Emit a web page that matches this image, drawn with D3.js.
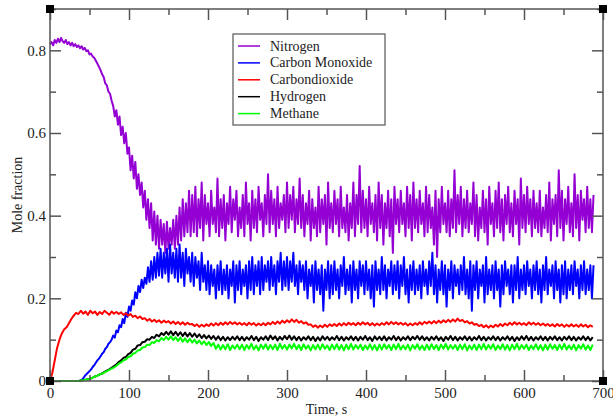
<!DOCTYPE html>
<html>
<head>
<meta charset="utf-8">
<script src="https://cdn.jsdelivr.net/npm/d3@7"></script>
<style>
  body { margin: 0; background: #fff; }
  svg text { font-family: "Liberation Serif", "DejaVu Serif", "Times New Roman", Times, serif; fill: #222; }
</style>
</head>
<body>
<script>
// mole fraction of producer gas species vs time

// sample times, s (nitrogen and CO read every 2 s, the rest every 3 s)
var times2 = d3.range(0, 690, 2);
var times3 = d3.range(0, 690, 3);

var nitrogen = [
  0.815,0.82,0.812,0.825,0.818,0.828,0.82,0.83,0.822,0.818,
  0.825,0.815,0.82,0.812,0.818,0.81,0.815,0.808,0.812,0.805,
  0.81,0.802,0.806,0.798,0.80,0.79,0.792,0.785,0.782,0.775,
  0.768,0.76,0.752,0.742,0.735,0.72,0.715,0.70,0.695,0.678,
  0.665,0.64,0.655,0.62,0.64,0.595,0.615,0.575,0.60,0.55,
  0.565,0.51,0.545,0.49,0.53,0.465,0.50,0.45,0.48,0.42,
  0.46,0.39,0.44,0.37,0.43,0.34,0.41,0.33,0.40,0.32,
  0.39,0.33,0.38,0.31,0.385,0.32,0.37,0.33,0.39,0.32,
  0.40,0.33,0.42,0.34,0.44,0.35,0.43,0.36,0.46,0.35,
  0.45,0.36,0.47,0.35,0.44,0.37,0.48,0.34,0.45,0.38,
  0.43,0.35,0.46,0.38,0.42,0.36,0.49,0.35,0.44,0.37,
  0.45,0.34,0.43,0.38,0.47,0.36,0.44,0.39,0.46,0.35,
  0.42,0.37,0.45,0.35,0.48,0.38,0.43,0.34,0.46,0.37,
  0.44,0.36,0.47,0.39,0.43,0.35,0.45,0.38,0.50,0.36,
  0.46,0.38,0.44,0.35,0.47,0.37,0.43,0.39,0.45,0.36,
  0.48,0.37,0.45,0.39,0.47,0.36,0.44,0.38,0.49,0.37,
  0.45,0.35,0.43,0.38,0.46,0.34,0.44,0.37,0.42,0.35,
  0.47,0.36,0.44,0.38,0.45,0.33,0.48,0.37,0.43,0.36,
  0.46,0.38,0.44,0.35,0.47,0.37,0.42,0.36,0.45,0.34,
  0.43,0.37,0.48,0.35,0.45,0.38,0.52,0.36,0.46,0.37,
  0.44,0.35,0.47,0.38,0.43,0.36,0.45,0.34,0.48,0.37,
  0.45,0.33,0.43,0.37,0.46,0.35,0.44,0.31,0.47,0.38,
  0.44,0.36,0.46,0.38,0.43,0.35,0.47,0.37,0.45,0.34,
  0.48,0.37,0.44,0.36,0.46,0.38,0.43,0.35,0.47,0.36,
  0.45,0.37,0.42,0.33,0.46,0.30,0.44,0.36,0.47,0.38,
  0.43,0.36,0.46,0.35,0.44,0.37,0.51,0.36,0.45,0.38,
  0.47,0.35,0.44,0.37,0.46,0.36,0.43,0.38,0.48,0.35,
  0.45,0.34,0.42,0.37,0.46,0.36,0.44,0.33,0.47,0.38,
  0.43,0.35,0.46,0.37,0.48,0.36,0.44,0.34,0.45,0.38,
  0.47,0.36,0.43,0.35,0.46,0.38,0.44,0.33,0.49,0.37,
  0.45,0.36,0.47,0.38,0.44,0.35,0.46,0.37,0.43,0.36,
  0.46,0.35,0.42,0.37,0.45,0.36,0.48,0.34,0.44,0.38,
  0.45,0.35,0.51,0.37,0.46,0.34,0.44,0.38,0.47,0.36,
  0.43,0.35,0.50,0.37,0.45,0.34,0.46,0.39,0.44,0.36,
  0.47,0.37,0.44,0.36,0.45
];

var carbonMonoxide = [
  0,0,0,0,0,0,0,0,0,0,
  0,0,0,0,0,0,0,0,0,0,
  0.002,0.006,0.012,0.016,0.02,0.024,0.028,0.034,0.038,0.044,
  0.05,0.054,0.06,0.066,0.07,0.078,0.082,0.09,0.094,0.10,
  0.11,0.105,0.122,0.118,0.135,0.13,0.15,0.14,0.165,0.155,
  0.18,0.17,0.195,0.185,0.215,0.20,0.23,0.215,0.245,0.225,
  0.25,0.235,0.275,0.24,0.29,0.245,0.30,0.25,0.31,0.255,
  0.32,0.25,0.31,0.26,0.32,0.24,0.33,0.26,0.31,0.25,
  0.32,0.24,0.33,0.25,0.31,0.23,0.32,0.26,0.30,0.24,
  0.31,0.23,0.30,0.25,0.29,0.22,0.31,0.24,0.28,0.22,
  0.29,0.21,0.28,0.23,0.27,0.20,0.28,0.22,0.29,0.21,
  0.27,0.22,0.28,0.20,0.27,0.23,0.29,0.19,0.28,0.22,
  0.29,0.21,0.27,0.23,0.28,0.20,0.29,0.22,0.30,0.21,
  0.28,0.23,0.29,0.21,0.30,0.22,0.28,0.24,0.29,0.22,
  0.30,0.23,0.28,0.21,0.29,0.24,0.31,0.22,0.29,0.23,
  0.30,0.22,0.29,0.24,0.31,0.23,0.28,0.21,0.29,0.24,
  0.28,0.22,0.29,0.20,0.27,0.23,0.28,0.19,0.29,0.22,
  0.27,0.21,0.28,0.17,0.27,0.22,0.29,0.20,0.28,0.21,
  0.29,0.22,0.27,0.20,0.28,0.23,0.30,0.21,0.27,0.22,
  0.28,0.19,0.29,0.22,0.27,0.20,0.29,0.23,0.28,0.21,
  0.29,0.22,0.27,0.20,0.28,0.18,0.29,0.22,0.27,0.21,
  0.30,0.22,0.28,0.20,0.27,0.23,0.29,0.21,0.28,0.22,
  0.29,0.20,0.28,0.23,0.30,0.21,0.27,0.19,0.28,0.22,
  0.29,0.21,0.27,0.22,0.28,0.20,0.29,0.23,0.27,0.21,
  0.29,0.23,0.31,0.21,0.28,0.19,0.27,0.22,0.29,0.21,
  0.28,0.18,0.27,0.22,0.29,0.20,0.28,0.23,0.27,0.21,
  0.28,0.22,0.30,0.21,0.27,0.20,0.29,0.17,0.28,0.22,
  0.29,0.20,0.27,0.23,0.28,0.19,0.30,0.21,0.27,0.22,
  0.28,0.20,0.29,0.22,0.27,0.18,0.28,0.21,0.29,0.23,
  0.27,0.21,0.28,0.19,0.28,0.22,0.30,0.20,0.27,0.22,
  0.28,0.21,0.29,0.23,0.27,0.20,0.28,0.22,0.29,0.21,
  0.27,0.19,0.28,0.22,0.30,0.21,0.27,0.23,0.28,0.20,
  0.29,0.22,0.27,0.19,0.28,0.21,0.29,0.20,0.27,0.22,
  0.28,0.21,0.29,0.23,0.27,0.20,0.28,0.22,0.29,0.21,
  0.27,0.22,0.28,0.20,0.28
];

var carbonDioxide = [
  0,0.02,0.05,0.08,0.10,0.115,0.125,0.13,0.14,0.15,
  0.158,0.165,0.162,0.17,0.163,0.168,0.16,0.17,0.164,0.168,
  0.16,0.167,0.162,0.17,0.165,0.16,0.168,0.163,0.167,0.162,
  0.166,0.16,0.164,0.158,0.162,0.155,0.158,0.152,0.156,0.15,
  0.152,0.146,0.15,0.144,0.148,0.143,0.147,0.141,0.146,0.142,
  0.145,0.139,0.144,0.138,0.143,0.137,0.142,0.136,0.141,0.137,
  0.138,0.133,0.137,0.131,0.136,0.132,0.137,0.133,0.139,0.134,
  0.14,0.135,0.141,0.136,0.142,0.137,0.143,0.138,0.142,0.137,
  0.141,0.136,0.14,0.135,0.141,0.136,0.14,0.134,0.139,0.135,
  0.14,0.135,0.141,0.137,0.143,0.138,0.144,0.139,0.146,0.141,
  0.147,0.142,0.149,0.143,0.148,0.141,0.145,0.139,0.142,0.136,
  0.137,0.131,0.135,0.129,0.134,0.13,0.136,0.131,0.137,0.133,
  0.138,0.133,0.139,0.134,0.14,0.135,0.141,0.136,0.14,0.135,
  0.141,0.136,0.142,0.137,0.141,0.135,0.14,0.134,0.139,0.135,
  0.14,0.136,0.142,0.137,0.143,0.138,0.142,0.137,0.141,0.136,
  0.14,0.134,0.139,0.135,0.14,0.136,0.142,0.137,0.143,0.139,
  0.144,0.139,0.145,0.14,0.146,0.141,0.147,0.142,0.148,0.143,
  0.149,0.144,0.151,0.145,0.148,0.142,0.145,0.139,0.142,0.136,
  0.138,0.133,0.136,0.13,0.135,0.129,0.134,0.13,0.136,0.132,
  0.138,0.133,0.139,0.135,0.141,0.136,0.142,0.137,0.141,0.136,
  0.14,0.135,0.142,0.137,0.141,0.136,0.14,0.135,0.139,0.134,
  0.138,0.133,0.137,0.132,0.138,0.133,0.137,0.131,0.136,0.132,
  0.137,0.132,0.136,0.131,0.137,0.132,0.136,0.13,0.135,0.131
];

var hydrogen = [
  0,0,0,0,0,0,0,0,0,0,
  0,0,0,0.001,0.002,0.003,0.004,0.006,0.008,0.011,
  0.013,0.016,0.018,0.022,0.025,0.028,0.032,0.036,0.04,0.046,
  0.05,0.056,0.058,0.065,0.068,0.076,0.078,0.086,0.087,0.094,
  0.095,0.101,0.1,0.107,0.104,0.112,0.108,0.116,0.111,0.119,
  0.112,0.12,0.111,0.119,0.11,0.118,0.109,0.117,0.108,0.116,
  0.107,0.115,0.106,0.113,0.104,0.111,0.103,0.11,0.102,0.109,
  0.1,0.108,0.099,0.107,0.098,0.106,0.099,0.107,0.1,0.108,
  0.099,0.107,0.098,0.106,0.1,0.109,0.099,0.107,0.097,0.106,
  0.1,0.108,0.099,0.11,0.101,0.108,0.098,0.107,0.1,0.109,
  0.101,0.11,0.1,0.108,0.099,0.107,0.098,0.106,0.1,0.108,
  0.099,0.107,0.097,0.106,0.098,0.108,0.1,0.107,0.099,0.106,
  0.1,0.109,0.099,0.107,0.098,0.106,0.1,0.108,0.099,0.107,
  0.098,0.107,0.1,0.109,0.099,0.106,0.097,0.108,0.1,0.107,
  0.099,0.108,0.098,0.106,0.1,0.109,0.099,0.107,0.098,0.106,
  0.1,0.108,0.099,0.107,0.101,0.109,0.1,0.108,0.099,0.106,
  0.098,0.107,0.1,0.108,0.099,0.106,0.097,0.107,0.1,0.109,
  0.099,0.107,0.098,0.106,0.1,0.108,0.099,0.107,0.098,0.106,
  0.1,0.109,0.099,0.107,0.098,0.106,0.1,0.108,0.099,0.107,
  0.098,0.106,0.1,0.108,0.099,0.107,0.097,0.106,0.099,0.108,
  0.1,0.109,0.099,0.107,0.098,0.106,0.1,0.108,0.099,0.107,
  0.098,0.107,0.1,0.108,0.099,0.106,0.098,0.107,0.1,0.108,
  0.099,0.107,0.098,0.106,0.1,0.108,0.099,0.107,0.098,0.106
];

var methane = [
  0,0,0,0,0,0,0,0,0,0,
  0,0,0,0.001,0.002,0.003,0.004,0.006,0.008,0.011,
  0.013,0.016,0.018,0.021,0.024,0.027,0.03,0.033,0.037,0.042,
  0.045,0.05,0.052,0.058,0.06,0.066,0.068,0.074,0.075,0.081,
  0.082,0.088,0.087,0.094,0.092,0.099,0.096,0.104,0.099,0.107,
  0.1,0.108,0.099,0.106,0.097,0.105,0.095,0.103,0.094,0.102,
  0.093,0.1,0.091,0.098,0.089,0.096,0.087,0.094,0.085,0.092,
  0.078,0.088,0.076,0.087,0.077,0.089,0.075,0.086,0.078,0.088,
  0.077,0.088,0.075,0.087,0.078,0.09,0.076,0.086,0.074,0.088,
  0.078,0.089,0.076,0.087,0.077,0.088,0.075,0.09,0.078,0.087,
  0.076,0.088,0.079,0.09,0.077,0.087,0.075,0.089,0.078,0.086,
  0.074,0.087,0.077,0.088,0.076,0.089,0.078,0.086,0.075,0.088,
  0.077,0.089,0.076,0.087,0.074,0.088,0.077,0.09,0.076,0.087,
  0.078,0.088,0.075,0.086,0.077,0.089,0.076,0.087,0.074,0.088,
  0.076,0.089,0.078,0.087,0.075,0.088,0.077,0.09,0.076,0.086,
  0.077,0.088,0.074,0.087,0.078,0.089,0.076,0.086,0.075,0.088,
  0.076,0.089,0.077,0.087,0.075,0.088,0.078,0.09,0.076,0.087,
  0.078,0.087,0.075,0.088,0.077,0.089,0.074,0.086,0.077,0.088,
  0.075,0.088,0.077,0.09,0.076,0.087,0.078,0.089,0.075,0.086,
  0.077,0.089,0.076,0.087,0.074,0.088,0.077,0.09,0.076,0.087,
  0.078,0.088,0.075,0.086,0.077,0.089,0.076,0.087,0.074,0.088,
  0.076,0.089,0.078,0.087,0.075,0.088,0.077,0.09,0.076,0.086,
  0.077,0.088,0.074,0.087,0.078,0.089,0.076,0.086,0.075,0.088
];

var seriesNames = ["Nitrogen", "Carbon Monoxide", "Carbondioxide", "Hydrogen", "Methane"];
var seriesColors = ["#9400d3", "#0000ff", "#ff0000", "#000000", "#00ff00"];
var seriesValues = [nitrogen, carbonMonoxide, carbonDioxide, hydrogen, methane];
var seriesTimes = [times2, times2, times3, times3, times3];

var xTicks = [0, 100, 200, 300, 400, 500, 600, 700];
var yTicks = [0, 0.2, 0.4, 0.6, 0.8];

var fontStack = "'Liberation Serif', 'DejaVu Serif', 'Times New Roman', Times, serif";

// set margins
var margin = {top: 9, right: 10, bottom: 36, left: 50};
var width = 613 - margin.left - margin.right;
var height = 417 - margin.top - margin.bottom;

var xScale = d3.scaleLinear().domain([0, 700]).range([0, width]);
var yScale = d3.scaleLinear().domain([0, 0.9]).range([height, 0]);

var svg = d3.select("body").append("svg")
    .attr("width", 613)
    .attr("height", 417)
    .append("g")
    .attr("transform", "translate(" + margin.left + "," + margin.top + ")");

// data lines
seriesValues.forEach(function(vals, k) {
    var t = seriesTimes[k];
    var line = d3.line()
        .x(function(d, i) { return xScale(t[i]); })
        .y(function(d) { return yScale(d); });

    svg.append("path")
        .datum(vals)
        .attr("fill", "none")
        .attr("stroke", seriesColors[k])
        .attr("stroke-width", 2)
        .attr("stroke-linejoin", "round")
        .attr("d", line);
});

// minor ticks (inside, all four sides)
var xMinor = [50, 150, 250, 350, 450, 550, 650];
var yMinor = [0.1, 0.3, 0.5, 0.7, 0.9];

function styleAxis(g) {
    g.attr("font-family", null);
    g.select(".domain").remove();
    g.selectAll(".tick line").attr("stroke", "#555").attr("stroke-width", 1.5);
    g.selectAll(".tick text").attr("font-size", 15).attr("fill", "#222")
        .style("font-family", fontStack);
}

svg.append("g")
    .attr("transform", "translate(0," + height + ")")
    .call(d3.axisBottom(xScale).tickValues(xTicks).tickSizeInner(-11).tickSizeOuter(0).tickPadding(6))
    .call(styleAxis);
svg.append("g")
    .attr("transform", "translate(0," + height + ")")
    .call(d3.axisBottom(xScale).tickValues(xMinor).tickSizeInner(-6).tickSizeOuter(0).tickFormat(""))
    .call(styleAxis);
svg.append("g")
    .call(d3.axisTop(xScale).tickValues(xTicks).tickSizeInner(-11).tickSizeOuter(0).tickFormat(""))
    .call(styleAxis);
svg.append("g")
    .call(d3.axisTop(xScale).tickValues(xMinor).tickSizeInner(-6).tickSizeOuter(0).tickFormat(""))
    .call(styleAxis);

svg.append("g")
    .call(d3.axisLeft(yScale).tickValues(yTicks).tickSizeInner(-11).tickSizeOuter(0).tickPadding(4)
        .tickFormat(function(d) { return d === 0 ? "0" : d3.format(".1f")(d); }))
    .call(styleAxis);
svg.append("g")
    .call(d3.axisLeft(yScale).tickValues(yMinor).tickSizeInner(-6).tickSizeOuter(0).tickFormat(""))
    .call(styleAxis);
svg.append("g")
    .attr("transform", "translate(" + width + ",0)")
    .call(d3.axisRight(yScale).tickValues(yTicks).tickSizeInner(-11).tickSizeOuter(0).tickFormat(""))
    .call(styleAxis);
svg.append("g")
    .attr("transform", "translate(" + width + ",0)")
    .call(d3.axisRight(yScale).tickValues(yMinor).tickSizeInner(-6).tickSizeOuter(0).tickFormat(""))
    .call(styleAxis);

// frame
svg.append("rect")
    .attr("width", width)
    .attr("height", height)
    .attr("fill", "none")
    .attr("stroke", "#555")
    .attr("stroke-width", 1.5);

// corner markers
[[0, 0], [width, 0], [0, height], [width, height]].forEach(function(c) {
    svg.append("rect")
        .attr("x", c[0] - 4)
        .attr("y", c[1] - 4)
        .attr("width", 8)
        .attr("height", 8)
        .attr("fill", "#000");
});

// legend
var legend = svg.append("g")
    .attr("transform", "translate(" + (233 - margin.left) + "," + (34 - margin.top) + ")");

legend.append("rect")
    .attr("width", 152)
    .attr("height", 91)
    .attr("fill", "#fff")
    .attr("stroke", "#555")
    .attr("stroke-width", 1.2);

seriesNames.forEach(function(name, k) {
    var ly = 12 + k * 16.9;
    legend.append("line")
        .attr("x1", 5)
        .attr("x2", 27)
        .attr("y1", ly)
        .attr("y2", ly)
        .attr("stroke", seriesColors[k])
        .attr("stroke-width", 1.5);
    legend.append("text")
        .attr("x", 37)
        .attr("y", ly + 4.5)
        .attr("font-size", 14)
        .style("font-family", fontStack)
        .text(name);
});

// axis titles
svg.append("text")
    .attr("x", width / 2)
    .attr("y", height + 33)
    .attr("text-anchor", "middle")
    .attr("font-size", 14)
    .style("font-family", fontStack)
    .text("Time, s");

svg.append("text")
    .attr("transform", "rotate(-90)")
    .attr("x", -height / 2)
    .attr("y", -28)
    .attr("text-anchor", "middle")
    .attr("font-size", 14)
    .style("font-family", fontStack)
    .text("Mole fraction");
</script>
</body>
</html>
